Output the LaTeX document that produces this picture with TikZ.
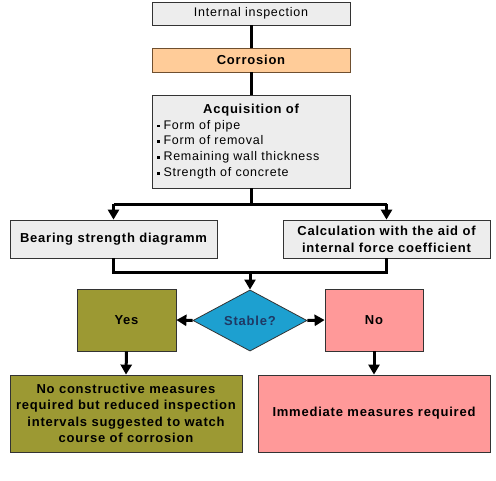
\documentclass[tikz,border=0pt]{standalone}
\usepackage{fontspec}
\setmainfont{Liberation Sans}[LetterSpace=6]
\usetikzlibrary{shapes.geometric,arrows.meta}
\definecolor{boxgray}{HTML}{EDEDED}
\definecolor{corrorange}{HTML}{FFCC99}
\definecolor{corredge}{HTML}{6F4F2F}
\definecolor{olive}{HTML}{9C9933}
\definecolor{diablue}{HTML}{1DA0D0}
\definecolor{pinkbox}{HTML}{FF9999}
\definecolor{edge}{HTML}{333333}
\definecolor{navytext}{HTML}{1F3864}
\newcommand{\sqbullet}{\rule[0.3ex]{2.5pt}{2.5pt}\hspace{4pt}}
\begin{document}
\begin{tikzpicture}[x=1pt,y=-1pt,
  box/.style={draw=edge,line width=0.8pt,rectangle,inner sep=2pt,align=center,font=\fontsize{13}{16.5}\selectfont\bfseries},
  conn/.style={line width=3pt,black},
  arr/.style={conn,-{Triangle[width=11pt,length=10pt]}}]
\useasboundingbox (0,0) rectangle (496,480);
\node[box,fill=boxgray,minimum width=198pt,minimum height=23pt,font=\fontsize{12.5}{14}\selectfont] (ii) at (251,13.5) {Internal inspection};
\node[box,draw=corredge,fill=corrorange,minimum width=198pt,minimum height=24pt] (corr) at (251,60) {Corrosion};
\node[box,fill=boxgray,minimum width=198pt,minimum height=93pt,text width=194pt,inner sep=0pt,align=left,font=\fontsize{12.5}{15.9}\selectfont] (acq) at (251,141.5)
  {\makebox[194pt]{\bfseries\fontsize{13}{15}\selectfont Acquisition of}\\
   \hspace*{3pt}\sqbullet Form of pipe\\
   \hspace*{3pt}\sqbullet Form of removal\\
   \hspace*{3pt}\sqbullet Remaining wall thickness\\
   \hspace*{3pt}\sqbullet Strength of concrete};
\node[box,fill=boxgray,minimum width=207pt,minimum height=38pt] (bear) at (113.5,239) {Bearing strength diagramm};
\node[box,fill=boxgray,minimum width=207pt,minimum height=38pt,font=\fontsize{13}{17}\selectfont\bfseries] (calc) at (386.5,239) {Calculation with the aid of\\internal force coefficient};
\node[diamond,draw=edge,line width=0.8pt,fill=diablue,minimum width=114pt,minimum height=61pt,inner sep=0pt,font=\fontsize{13}{15}\selectfont\bfseries,text=navytext] (dia) at (250,320.5) {Stable?};
\node[box,fill=olive,minimum width=99pt,minimum height=62pt] (yes) at (126.5,320) {Yes};
\node[box,fill=pinkbox,minimum width=98pt,minimum height=62pt] (no) at (374,320) {No};
\node[box,fill=olive,minimum width=232pt,minimum height=77pt] (bl) at (126,413.5) {No constructive measures\\required but reduced inspection\\intervals suggested to watch\\course of corrosion};
\node[box,fill=pinkbox,minimum width=232pt,minimum height=77pt] (br) at (374,413.5) {Immediate measures required};
\coordinate (j1) at (250,204);
\coordinate (j2) at (250,272);
\draw[conn] (ii.south) -- (corr.north);
\draw[conn] (corr.south) -- (acq.north);
\draw[conn] (acq.south) -- (acq.south |- j1);
\draw[conn] (bear.north |- j1) -- (calc.north |- j1);
\draw[arr] (bear.north |- j1) -- (bear.north);
\draw[arr] (calc.north |- j1) -- (calc.north);
\draw[conn] (bear.south) -- (bear.south |- j2) -- (calc.south |- j2) -- (calc.south);
\draw[arr] (dia.north |- j2) -- (dia.north);
\draw[arr] (dia.west) -- (yes.east);
\draw[arr] (dia.east) -- (no.west);
\draw[arr] (yes.south) -- (bl.north);
\draw[arr] (no.south) -- (br.north);
\end{tikzpicture}
\end{document}
